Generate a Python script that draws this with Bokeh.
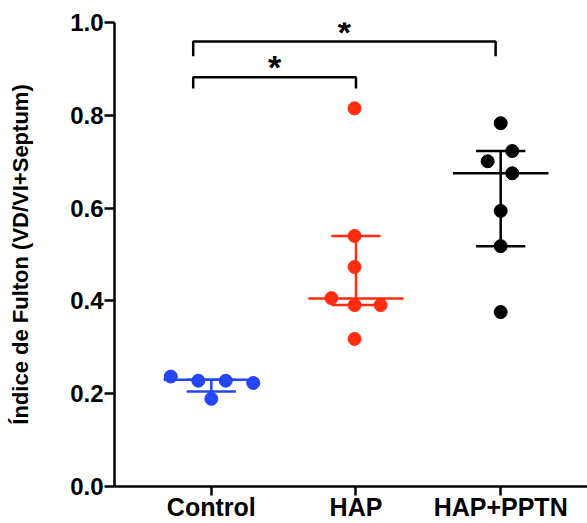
from bokeh.plotting import figure
from bokeh.models import Range1d, FixedTicker, ColumnDataSource, PrintfTickFormatter
from bokeh.core.properties import value
from bokeh.embed import file_html
from bokeh.resources import INLINE

# ---- data ----
categories = ["Control", "HAP", "HAP+PPTN"]
colors = ["#2446f4", "#ff2c10", "#000000"]

control_values = [0.237, 0.228, 0.228, 0.223, 0.189]
control_jitter = [-0.28, -0.09, 0.10, 0.29, 0.0]
hap_values = [0.815, 0.540, 0.473, 0.406, 0.391, 0.391, 0.318]
hap_jitter = [-0.01, -0.01, -0.01, -0.17, -0.01, 0.17, -0.01]
pptn_values = [0.783, 0.723, 0.701, 0.675, 0.594, 0.518, 0.376]
pptn_jitter = [0.0, 0.08, -0.09, 0.08, 0.0, 0.0, 0.0]

medians = [0.230, 0.405, 0.675]
q1 = [0.205, 0.391, 0.518]
q3 = [0.230, 0.540, 0.723]

y_ticks = [0.0, 0.2, 0.4, 0.6, 0.8, 1.0]
y_title = "Índice de Fulton (VD/VI+Septum)"

bracket_groups = [(0, 1), (0, 2)]
bracket_heights = [0.882, 0.959]
bracket_labels = ["*", "*"]

# ---- styles ----
FONT = "Liberation Sans"
median_half = 0.33
quart_half = 0.17
bracket_drops = [0.024, 0.032]
bracket_left_off = -0.125
bracket_right_offs = [0.0, -0.035]

p = figure(width=587, height=523, output_backend="svg", toolbar_location=None,
           x_range=Range1d(0.331, 3.60), y_range=Range1d(0.0, 1.0),
           min_border_left=114, min_border_right=0, min_border_top=22,
           min_border_bottom=36)
p.outline_line_color = None
p.grid.visible = False
p.background_fill_color = "white"
p.border_fill_color = "white"

group_values = [control_values, hap_values, pptn_values]
group_jitter = [control_jitter, hap_jitter, pptn_jitter]

for i, (vals, jit, col) in enumerate(zip(group_values, group_jitter, colors)):
    cx = i + 1
    p.segment(x0=[cx - median_half], y0=[medians[i]], x1=[cx + median_half], y1=[medians[i]],
              line_color=col, line_width=2.5)
    p.segment(x0=[cx - quart_half, cx - quart_half], y0=[q1[i], q3[i]],
              x1=[cx + quart_half, cx + quart_half], y1=[q1[i], q3[i]],
              line_color=col, line_width=2.5)
    p.segment(x0=[cx], y0=[q1[i]], x1=[cx], y1=[q3[i]], line_color=col, line_width=2.5)
    src = ColumnDataSource(dict(x=[cx + j for j in jit], y=vals))
    p.scatter("x", "y", source=src, size=13, fill_color=col, line_color=col)

for (a, b), h, drop, roff, lab in zip(bracket_groups, bracket_heights, bracket_drops,
                                      bracket_right_offs, bracket_labels):
    xa = a + 1 + bracket_left_off
    xb = b + 1 + roff
    p.line(x=[xa, xa, xb, xb], y=[h - drop, h, h, h - drop], line_color="black",
           line_width=2.5)
    p.text(x=[(xa + xb) / 2], y=[h], text=[lab], text_align="center",
           text_baseline="alphabetic", text_font=value(FONT), text_font_style="bold",
           text_font_size="34px", text_color="black", y_offset=-10)

p.yaxis.ticker = FixedTicker(ticks=y_ticks)
p.yaxis.formatter = PrintfTickFormatter(format="%.1f")
p.xaxis.ticker = FixedTicker(ticks=[1, 2, 3])
p.xaxis.major_label_overrides = {i + 1: c for i, c in enumerate(categories)}

for ax in (p.xaxis[0], p.yaxis[0]):
    ax.axis_line_width = 2.5
    ax.axis_line_color = "black"
    ax.major_tick_line_width = 2.5
    ax.major_tick_line_color = "black"
    ax.major_tick_in = 0
    ax.minor_tick_line_color = None
    ax.major_label_text_font = FONT
    ax.major_label_text_font_style = "bold"
    ax.major_label_text_color = "black"

p.yaxis.major_tick_out = 10
p.yaxis.major_label_standoff = 1
p.yaxis.major_label_text_font_size = "24px"
p.yaxis.axis_label = y_title
p.yaxis.axis_label_text_font = FONT
p.yaxis.axis_label_text_font_style = "bold"
p.yaxis.axis_label_text_font_size = "22px"
p.yaxis.axis_label_text_color = "black"
p.yaxis.axis_label_standoff = 34

p.xaxis.major_tick_out = 9
p.xaxis.major_label_standoff = -3
p.xaxis.major_label_text_font_size = "25px"

open("out.html", "w").write(file_html(p, INLINE))
